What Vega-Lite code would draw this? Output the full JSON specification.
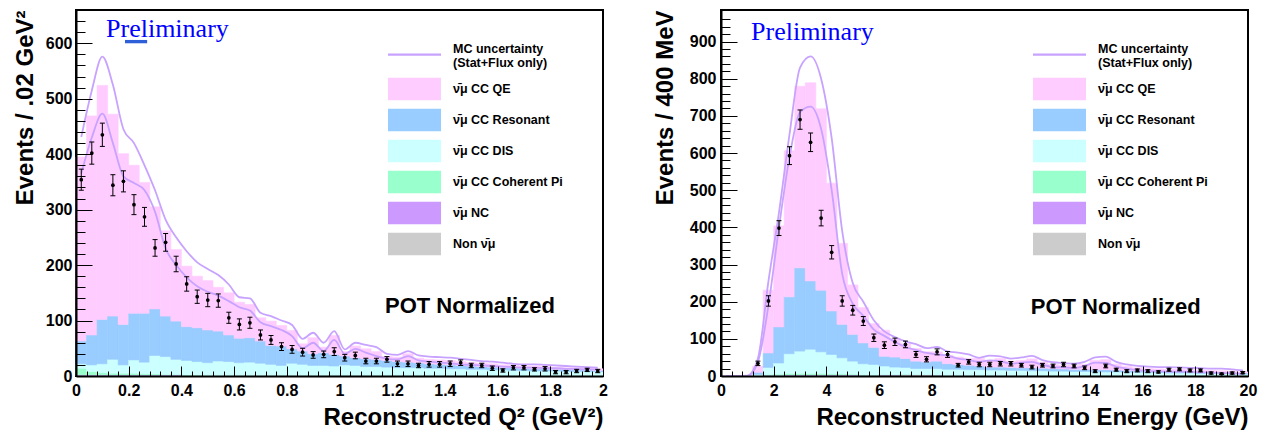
{
"$schema": "https://vega.github.io/schema/vega-lite/v6.json",
"padding": {"left": 12, "top": 8, "right": 5, "bottom": 0},
"spacing": 43,
"config": {
  "view": {"stroke": "black", "strokeWidth": 2},
  "font": "Liberation Sans",
  "axis": {"domainColor": "black", "domainWidth": 2, "tickColor": "black", "tickWidth": 1, "grid": false,
    "labelFont": "Liberation Sans", "labelFontWeight": "bold", "labelFontSize": 16, "labelColor": "black",
    "titleFont": "Liberation Sans", "titleFontWeight": "bold", "titleFontSize": 24, "titleColor": "black",
    "titleAnchor": "end", "labelFlush": false, "labelOverlap": false, "labelBound": false, "zindex": 1}
},
"resolve": {"scale": {"x": "independent", "y": "independent", "color": "independent", "stroke": "independent"}, "legend": {"color": "independent"}},
"hconcat": [
{
  "width": 527, "height": 366,
  "data": {"values": [
{"x0":0,"x1":0.04,"xc":0.02,"a_non":1,"b_nc":1,"c_coh":12,"d_dis":8,"e_res":41,"f_qe":332,"d":354,"lo":335,"hi":373,"up":431,"dn":365},
{"x0":0.04,"x1":0.08,"xc":0.06,"a_non":1,"b_nc":1,"c_coh":6,"d_dis":12,"e_res":54,"f_qe":395,"d":402,"lo":382,"hi":422,"up":515,"dn":430},
{"x0":0.08,"x1":0.12,"xc":0.1,"a_non":1,"b_nc":1,"c_coh":4,"d_dis":16,"e_res":80,"f_qe":422,"d":435,"lo":414,"hi":456,"up":576,"dn":473},
{"x0":0.12,"x1":0.16,"xc":0.14,"a_non":1,"b_nc":1,"c_coh":3,"d_dis":25,"e_res":78,"f_qe":364,"d":344,"lo":325,"hi":363,"up":525,"dn":420},
{"x0":0.16,"x1":0.2,"xc":0.18,"a_non":1,"b_nc":1,"c_coh":3,"d_dis":15,"e_res":73,"f_qe":308,"d":351,"lo":332,"hi":370,"up":445,"dn":360},
{"x0":0.2,"x1":0.24,"xc":0.22,"a_non":1,"b_nc":1,"c_coh":3,"d_dis":24,"e_res":84,"f_qe":267,"d":309,"lo":291,"hi":327,"up":420,"dn":348},
{"x0":0.24,"x1":0.28,"xc":0.26,"a_non":1,"b_nc":1,"c_coh":2,"d_dis":21,"e_res":88,"f_qe":236,"d":287,"lo":270,"hi":304,"up":380,"dn":335},
{"x0":0.28,"x1":0.32,"xc":0.3,"a_non":1,"b_nc":1,"c_coh":2,"d_dis":33,"e_res":84,"f_qe":184,"d":231,"lo":216,"hi":246,"up":335,"dn":296},
{"x0":0.32,"x1":0.36,"xc":0.34,"a_non":1,"b_nc":1,"c_coh":1,"d_dis":32,"e_res":73,"f_qe":154,"d":241,"lo":225,"hi":257,"up":282,"dn":230},
{"x0":0.36,"x1":0.4,"xc":0.38,"a_non":1,"b_nc":1,"c_coh":1,"d_dis":27,"e_res":69,"f_qe":129,"d":202,"lo":188,"hi":216,"up":250,"dn":200},
{"x0":0.4,"x1":0.44,"xc":0.42,"a_non":0,"b_nc":1,"c_coh":1,"d_dis":26,"e_res":61,"f_qe":109,"d":166,"lo":153,"hi":179,"up":225,"dn":178},
{"x0":0.44,"x1":0.48,"xc":0.46,"a_non":0,"b_nc":1,"c_coh":1,"d_dis":24,"e_res":61,"f_qe":93,"d":143,"lo":131,"hi":155,"up":205,"dn":162},
{"x0":0.48,"x1":0.52,"xc":0.5,"a_non":0,"b_nc":1,"c_coh":0,"d_dis":23,"e_res":59,"f_qe":89,"d":137,"lo":125,"hi":149,"up":193,"dn":152},
{"x0":0.52,"x1":0.56,"xc":0.54,"a_non":0,"b_nc":1,"c_coh":0,"d_dis":26,"e_res":54,"f_qe":79,"d":136,"lo":124,"hi":148,"up":182,"dn":145},
{"x0":0.56,"x1":0.6,"xc":0.58,"a_non":0,"b_nc":1,"c_coh":0,"d_dis":25,"e_res":48,"f_qe":76,"d":105,"lo":95,"hi":115,"up":165,"dn":135},
{"x0":0.6,"x1":0.64,"xc":0.62,"a_non":0,"b_nc":1,"c_coh":0,"d_dis":23,"e_res":44,"f_qe":65,"d":93,"lo":83,"hi":103,"up":142,"dn":124},
{"x0":0.64,"x1":0.68,"xc":0.66,"a_non":0,"b_nc":1,"c_coh":0,"d_dis":24,"e_res":44,"f_qe":60,"d":96,"lo":86,"hi":106,"up":140,"dn":118},
{"x0":0.68,"x1":0.72,"xc":0.7,"a_non":0,"b_nc":1,"c_coh":0,"d_dis":22,"e_res":40,"f_qe":42,"d":74,"lo":65,"hi":83,"up":114,"dn":97},
{"x0":0.72,"x1":0.76,"xc":0.74,"a_non":0,"b_nc":1,"c_coh":0,"d_dis":20,"e_res":34,"f_qe":44,"d":65,"lo":57,"hi":73,"up":108,"dn":90},
{"x0":0.76,"x1":0.8,"xc":0.78,"a_non":0,"b_nc":1,"c_coh":0,"d_dis":18,"e_res":35,"f_qe":37,"d":53,"lo":46,"hi":60,"up":100,"dn":83},
{"x0":0.8,"x1":0.84,"xc":0.82,"a_non":0,"b_nc":1,"c_coh":0,"d_dis":22,"e_res":26,"f_qe":33,"d":48,"lo":41,"hi":55,"up":92,"dn":72},
{"x0":0.84,"x1":0.88,"xc":0.86,"a_non":0,"b_nc":1,"c_coh":0,"d_dis":20,"e_res":24,"f_qe":13,"d":43,"lo":36,"hi":50,"up":67,"dn":50},
{"x0":0.88,"x1":0.92,"xc":0.9,"a_non":0,"b_nc":1,"c_coh":0,"d_dis":18,"e_res":21,"f_qe":29,"d":38,"lo":32,"hi":44,"up":78,"dn":60},
{"x0":0.92,"x1":0.96,"xc":0.94,"a_non":0,"b_nc":1,"c_coh":0,"d_dis":18,"e_res":23,"f_qe":10,"d":39,"lo":33,"hi":45,"up":60,"dn":45},
{"x0":0.96,"x1":1,"xc":0.98,"a_non":0,"b_nc":1,"c_coh":0,"d_dis":17,"e_res":21,"f_qe":34,"d":44,"lo":37,"hi":51,"up":81,"dn":65},
{"x0":1,"x1":1.04,"xc":1.02,"a_non":0,"b_nc":1,"c_coh":0,"d_dis":19,"e_res":16,"f_qe":8,"d":33,"lo":27,"hi":39,"up":48,"dn":40},
{"x0":1.04,"x1":1.08,"xc":1.06,"a_non":0,"b_nc":1,"c_coh":0,"d_dis":18,"e_res":14,"f_qe":21,"d":37,"lo":31,"hi":43,"up":60,"dn":49},
{"x0":1.08,"x1":1.12,"xc":1.1,"a_non":0,"b_nc":1,"c_coh":0,"d_dis":16,"e_res":14,"f_qe":18,"d":27,"lo":22,"hi":32,"up":56,"dn":42},
{"x0":1.12,"x1":1.16,"xc":1.14,"a_non":0,"b_nc":1,"c_coh":0,"d_dis":16,"e_res":13,"f_qe":14,"d":27,"lo":22,"hi":32,"up":52,"dn":36},
{"x0":1.16,"x1":1.2,"xc":1.18,"a_non":0,"b_nc":1,"c_coh":0,"d_dis":15,"e_res":12,"f_qe":7,"d":30,"lo":25,"hi":35,"up":40,"dn":31},
{"x0":1.2,"x1":1.24,"xc":1.22,"a_non":0,"b_nc":1,"c_coh":0,"d_dis":14,"e_res":11,"f_qe":8,"d":22,"lo":17,"hi":27,"up":38,"dn":30},
{"x0":1.24,"x1":1.28,"xc":1.26,"a_non":0,"b_nc":1,"c_coh":0,"d_dis":14,"e_res":10,"f_qe":15,"d":22,"lo":17,"hi":27,"up":45,"dn":36},
{"x0":1.28,"x1":1.32,"xc":1.3,"a_non":0,"b_nc":1,"c_coh":0,"d_dis":14,"e_res":9,"f_qe":8,"d":19,"lo":15,"hi":23,"up":37,"dn":28},
{"x0":1.32,"x1":1.36,"xc":1.34,"a_non":0,"b_nc":1,"c_coh":0,"d_dis":13,"e_res":8,"f_qe":8,"d":21,"lo":16,"hi":26,"up":35,"dn":26},
{"x0":1.36,"x1":1.4,"xc":1.38,"a_non":0,"b_nc":1,"c_coh":0,"d_dis":13,"e_res":7,"f_qe":8,"d":21,"lo":16,"hi":26,"up":34,"dn":24},
{"x0":1.4,"x1":1.44,"xc":1.42,"a_non":0,"b_nc":1,"c_coh":0,"d_dis":12,"e_res":7,"f_qe":8,"d":22,"lo":17,"hi":27,"up":33,"dn":23},
{"x0":1.44,"x1":1.48,"xc":1.46,"a_non":0,"b_nc":1,"c_coh":0,"d_dis":12,"e_res":6,"f_qe":7,"d":24,"lo":19,"hi":29,"up":31,"dn":21},
{"x0":1.48,"x1":1.52,"xc":1.5,"a_non":0,"b_nc":1,"c_coh":0,"d_dis":11,"e_res":6,"f_qe":6,"d":19,"lo":15,"hi":23,"up":29,"dn":20},
{"x0":1.52,"x1":1.56,"xc":1.54,"a_non":0,"b_nc":1,"c_coh":0,"d_dis":11,"e_res":5,"f_qe":6,"d":19,"lo":15,"hi":23,"up":27,"dn":19},
{"x0":1.56,"x1":1.6,"xc":1.58,"a_non":0,"b_nc":1,"c_coh":0,"d_dis":10,"e_res":5,"f_qe":6,"d":14,"lo":10,"hi":18,"up":26,"dn":18},
{"x0":1.6,"x1":1.64,"xc":1.62,"a_non":0,"b_nc":1,"c_coh":0,"d_dis":10,"e_res":4,"f_qe":5,"d":10,"lo":7,"hi":13,"up":24,"dn":17},
{"x0":1.64,"x1":1.68,"xc":1.66,"a_non":0,"b_nc":1,"c_coh":0,"d_dis":9,"e_res":5,"f_qe":4,"d":15,"lo":11,"hi":19,"up":22,"dn":16},
{"x0":1.68,"x1":1.72,"xc":1.7,"a_non":0,"b_nc":1,"c_coh":0,"d_dis":9,"e_res":4,"f_qe":4,"d":15,"lo":11,"hi":19,"up":21,"dn":15},
{"x0":1.72,"x1":1.76,"xc":1.74,"a_non":0,"b_nc":1,"c_coh":0,"d_dis":8,"e_res":4,"f_qe":5,"d":12,"lo":9,"hi":15,"up":21,"dn":15},
{"x0":1.76,"x1":1.8,"xc":1.78,"a_non":0,"b_nc":1,"c_coh":0,"d_dis":8,"e_res":4,"f_qe":4,"d":13,"lo":9,"hi":17,"up":20,"dn":14},
{"x0":1.8,"x1":1.84,"xc":1.82,"a_non":0,"b_nc":1,"c_coh":0,"d_dis":8,"e_res":3,"f_qe":4,"d":7,"lo":4,"hi":10,"up":19,"dn":14},
{"x0":1.84,"x1":1.88,"xc":1.86,"a_non":0,"b_nc":1,"c_coh":0,"d_dis":7,"e_res":4,"f_qe":3,"d":7,"lo":4,"hi":10,"up":18,"dn":13},
{"x0":1.88,"x1":1.92,"xc":1.9,"a_non":0,"b_nc":1,"c_coh":0,"d_dis":7,"e_res":3,"f_qe":4,"d":9,"lo":6,"hi":12,"up":17,"dn":13},
{"x0":1.92,"x1":1.96,"xc":1.94,"a_non":0,"b_nc":1,"c_coh":0,"d_dis":7,"e_res":3,"f_qe":3,"d":11,"lo":8,"hi":14,"up":16,"dn":12},
{"x0":1.96,"x1":2,"xc":1.98,"a_non":0,"b_nc":1,"c_coh":0,"d_dis":7,"e_res":2,"f_qe":3,"d":9,"lo":6,"hi":12,"up":15,"dn":12}
  ]},
  "layer": [
    {"transform": [{"fold": ["a_non","b_nc","c_coh","d_dis","e_res","f_qe"], "as": ["cat","n"]},
                   {"stack": "n", "groupby": ["x0"], "sort": [{"field": "cat", "order": "ascending"}], "as": ["s0","s1"]}],
     "mark": {"type": "rect", "opacity": 1, "strokeWidth": 0.6},
     "encoding": {
       "x": {"field": "x0", "type": "quantitative", "scale": {"domain": [0,2], "nice": false, "zero": false},
         "axis": {"values": [0,0.04,0.08,0.12,0.16,0.2,0.24,0.28,0.32,0.36,0.4,0.44,0.48,0.52,0.56,0.6,0.64,0.68,0.72,0.76,0.8,0.84,0.88,0.92,0.96,1,1.04,1.08,1.12,1.16,1.2,1.24,1.28,1.32,1.36,1.4,1.44,1.48,1.52,1.56,1.6,1.64,1.68,1.72,1.76,1.8,1.84,1.88,1.92,1.96,2],
           "tickCount": 500,
           "tickSize": {"condition": {"test": "abs(datum.value*5-round(datum.value*5))<0.001", "value": -10}, "value": -5},
           "labelExpr": "abs(datum.value*5-round(datum.value*5))<0.001 ? format(datum.value,'~g') : ''",
           "labelOverlap": false, "zindex": 1,
           "labelPadding": 16, "title": "Reconstructed Q\u00b2 (GeV\u00b2)", "titlePadding": 2}},
       "x2": {"field": "x1"},
       "y": {"field": "s0", "type": "quantitative", "scale": {"domain": [0,660], "nice": false},
         "axis": {"values": [0,20,40,60,80,100,120,140,160,180,200,220,240,260,280,300,320,340,360,380,400,420,440,460,480,500,520,540,560,580,600,620,640],
           "tickCount": 500,
           "tickSize": {"condition": {"test": "datum.value % 100 === 0", "value": -16}, "value": -9},
           "labelExpr": "datum.value % 100 === 0 ? datum.label : ''",
           "labelOverlap": false, "zindex": 1,
           "labelPadding": 20, "title": "Events / .02 GeV\u00b2", "titlePadding": 8}},
       "y2": {"field": "s1"},
       "stroke": {"field": "cat", "type": "nominal", "legend": null,
         "scale": {"domain": ["MC","f_qe","e_res","d_dis","c_coh","b_nc","a_non"], "range": ["#c8a2ff","#ffccff","#99ccff","#ccffff","#99ffcc","#cc99ff","#cccccc"]}},
       "color": {"field": "cat", "type": "nominal",
         "scale": {"domain": ["MC","f_qe","e_res","d_dis","c_coh","b_nc","a_non"], "range": ["#c8a2ff","#ffccff","#99ccff","#ccffff","#99ffcc","#cc99ff","#cccccc"]},
         "legend": {"orient": "none", "legendX": 312, "legendY": 27.5, "title": null, "symbolType": "M-1,-0.43H1V0.43H-1Z", "symbolSize": 2809, "symbolStrokeWidth": 0, "symbolOpacity": 1, "clipHeight": 23, "rowPadding": 8, "labelOffset": 12, "labelFont": "Liberation Sans", "labelFontWeight": "bold", "labelFontSize": 12.5, "labelColor": "black", "labelLimit": 300,
           "labelExpr": "{'MC':['MC uncertainty','(Stat+Flux only)'],'f_qe':'\u03bd\u0304\u03bc CC QE','e_res':'\u03bd\u0304\u03bc CC Resonant','d_dis':'\u03bd\u0304\u03bc CC DIS','c_coh':'\u03bd\u0304\u03bc CC Coherent Pi','b_nc':'\u03bd\u0304\u03bc NC','a_non':'Non \u03bd\u0304\u03bc'}[datum.value]",
           "encode": {"symbols": {"update": {"shape": {"signal": "datum.value === 'MC' ? 'M-1,0.17H1V0.25H-1Z' : 'M-1,-0.43H1V0.43H-1Z'"}}}, "labels": {"update": {"lineHeight": {"value": 14}}}}}}
     }},
    {"transform": [{"fold": ["up","dn"], "as": ["band","v"]}],
     "mark": {"type": "line", "color": "#c8a2ff", "strokeWidth": 1.8, "interpolate": "monotone"},
     "encoding": {
       "x": {"field": "xc", "type": "quantitative", "scale": {"domain": [0,2], "nice": false}},
       "y": {"field": "v", "type": "quantitative", "scale": {"domain": [0,660], "nice": false}},
       "detail": {"field": "band"}}},
    {"mark": {"type": "rule", "color": "black", "strokeWidth": 1},
     "encoding": {
       "x": {"field": "xc", "type": "quantitative", "scale": {"domain": [0,2], "nice": false}},
       "y": {"field": "lo", "type": "quantitative", "scale": {"domain": [0,660], "nice": false}},
       "y2": {"field": "hi"}}},
    {"transform": [{"fold": ["lo","hi"], "as": ["e","ev"]}],
     "mark": {"type": "tick", "orient": "horizontal", "size": 5, "thickness": 1, "color": "black", "opacity": 1},
     "encoding": {
       "x": {"field": "xc", "type": "quantitative", "scale": {"domain": [0,2], "nice": false}},
       "y": {"field": "ev", "type": "quantitative", "scale": {"domain": [0,660], "nice": false}}}},
    {"mark": {"type": "circle", "size": 14, "color": "black", "opacity": 1},
     "encoding": {
       "x": {"field": "xc", "type": "quantitative", "scale": {"domain": [0,2], "nice": false}},
       "y": {"field": "d", "type": "quantitative", "scale": {"domain": [0,660], "nice": false}}}},
    {"data": {"values": [{"x": 0.114, "y": 612, "t": "Preliminary"}]},
     "mark": {"type": "text", "font": "Liberation Serif", "fontSize": 26, "color": "#0000ff", "align": "left", "baseline": "alphabetic"},
     "encoding": {
       "x": {"field": "x", "type": "quantitative", "scale": {"domain": [0,2], "nice": false}},
       "y": {"field": "y", "type": "quantitative", "scale": {"domain": [0,660], "nice": false}},
       "text": {"field": "t"}}},
    {"data": {"values": [{"x": 0.186, "x2": 0.27, "y": 600, "y2": 606}]},
     "mark": {"type": "rect", "color": "#2f5fd8"},
     "encoding": {
       "x": {"field": "x", "type": "quantitative", "scale": {"domain": [0,2], "nice": false}},
       "x2": {"field": "x2"},
       "y": {"field": "y", "type": "quantitative", "scale": {"domain": [0,660], "nice": false}},
       "y2": {"field": "y2"}}},
    {"data": {"values": [{"x": 1.495, "y": 114, "t": "POT Normalized"}]},
     "mark": {"type": "text", "font": "Liberation Sans", "fontSize": 22, "fontWeight": "bold", "color": "black", "align": "center", "baseline": "alphabetic"},
     "encoding": {
       "x": {"field": "x", "type": "quantitative", "scale": {"domain": [0,2], "nice": false}},
       "y": {"field": "y", "type": "quantitative", "scale": {"domain": [0,660], "nice": false}},
       "text": {"field": "t"}}}
  ]
},
{
  "width": 527, "height": 366,
  "data": {"values": [
{"x0":0,"x1":0.4,"xc":0.2,"a_non":0,"b_nc":0,"c_coh":0,"d_dis":0,"e_res":0,"f_qe":0,"up":0,"dn":0},
{"x0":0.4,"x1":0.8,"xc":0.6,"a_non":0,"b_nc":0,"c_coh":0,"d_dis":0,"e_res":0,"f_qe":0,"up":0,"dn":0},
{"x0":0.8,"x1":1.2,"xc":1.0,"a_non":0,"b_nc":0,"c_coh":0,"d_dis":0,"e_res":0,"f_qe":0,"up":1,"dn":0},
{"x0":1.2,"x1":1.6,"xc":1.4,"a_non":0,"b_nc":1,"c_coh":0,"d_dis":3,"e_res":6,"f_qe":16,"d":34,"lo":28,"hi":40,"up":47,"dn":38},
{"x0":1.6,"x1":2,"xc":1.8,"a_non":1,"b_nc":1,"c_coh":2,"d_dis":19,"e_res":39,"f_qe":169,"d":202,"lo":188,"hi":216,"up":255,"dn":190},
{"x0":2,"x1":2.4,"xc":2.2,"a_non":1,"b_nc":1,"c_coh":3,"d_dis":30,"e_res":97,"f_qe":272,"d":398,"lo":378,"hi":418,"up":440,"dn":400},
{"x0":2.4,"x1":2.8,"xc":2.6,"a_non":1,"b_nc":2,"c_coh":4,"d_dis":53,"e_res":153,"f_qe":393,"d":593,"lo":569,"hi":617,"up":650,"dn":589},
{"x0":2.8,"x1":3.2,"xc":3,"a_non":1,"b_nc":2,"c_coh":4,"d_dis":60,"e_res":224,"f_qe":489,"d":690,"lo":664,"hi":716,"up":830,"dn":710},
{"x0":3.2,"x1":3.6,"xc":3.4,"a_non":1,"b_nc":2,"c_coh":4,"d_dis":65,"e_res":184,"f_qe":533,"d":629,"lo":604,"hi":654,"up":860,"dn":725},
{"x0":3.6,"x1":4,"xc":3.8,"a_non":1,"b_nc":2,"c_coh":4,"d_dis":58,"e_res":166,"f_qe":488,"d":425,"lo":404,"hi":446,"up":800,"dn":665},
{"x0":4,"x1":4.4,"xc":4.2,"a_non":1,"b_nc":2,"c_coh":3,"d_dis":52,"e_res":117,"f_qe":344,"d":333,"lo":315,"hi":351,"up":640,"dn":500},
{"x0":4.4,"x1":4.8,"xc":4.6,"a_non":1,"b_nc":2,"c_coh":3,"d_dis":43,"e_res":90,"f_qe":218,"d":202,"lo":188,"hi":216,"up":390,"dn":275},
{"x0":4.8,"x1":5.2,"xc":5,"a_non":1,"b_nc":2,"c_coh":2,"d_dis":35,"e_res":72,"f_qe":133,"d":177,"lo":164,"hi":190,"up":250,"dn":195},
{"x0":5.2,"x1":5.6,"xc":5.4,"a_non":1,"b_nc":1,"c_coh":2,"d_dis":29,"e_res":56,"f_qe":95,"d":148,"lo":136,"hi":160,"up":200,"dn":162},
{"x0":5.6,"x1":6,"xc":5.8,"a_non":1,"b_nc":1,"c_coh":1,"d_dis":28,"e_res":46,"f_qe":64,"d":103,"lo":93,"hi":113,"up":150,"dn":125},
{"x0":6,"x1":6.4,"xc":6.2,"a_non":2,"b_nc":1,"c_coh":1,"d_dis":23,"e_res":26,"f_qe":70,"d":83,"lo":74,"hi":92,"up":120,"dn":108},
{"x0":6.4,"x1":6.8,"xc":6.6,"a_non":2,"b_nc":1,"c_coh":1,"d_dis":20,"e_res":27,"f_qe":50,"d":92,"lo":82,"hi":102,"up":105,"dn":92},
{"x0":6.8,"x1":7.2,"xc":7,"a_non":3,"b_nc":1,"c_coh":1,"d_dis":18,"e_res":24,"f_qe":40,"d":85,"lo":76,"hi":94,"up":93,"dn":78},
{"x0":7.2,"x1":7.6,"xc":7.4,"a_non":3,"b_nc":1,"c_coh":0,"d_dis":16,"e_res":20,"f_qe":34,"d":58,"lo":50,"hi":66,"up":86,"dn":70},
{"x0":7.6,"x1":8,"xc":7.8,"a_non":3,"b_nc":1,"c_coh":0,"d_dis":16,"e_res":18,"f_qe":27,"d":45,"lo":38,"hi":52,"up":75,"dn":62},
{"x0":8,"x1":8.4,"xc":8.2,"a_non":2,"b_nc":1,"c_coh":0,"d_dis":17,"e_res":20,"f_qe":25,"d":65,"lo":57,"hi":73,"up":78,"dn":58},
{"x0":8.4,"x1":8.8,"xc":8.6,"a_non":1,"b_nc":1,"c_coh":0,"d_dis":16,"e_res":15,"f_qe":23,"d":58,"lo":50,"hi":66,"up":66,"dn":55},
{"x0":8.8,"x1":9.2,"xc":9,"a_non":1,"b_nc":1,"c_coh":0,"d_dis":16,"e_res":13,"f_qe":20,"d":29,"lo":24,"hi":34,"up":63,"dn":47},
{"x0":9.2,"x1":9.6,"xc":9.4,"a_non":1,"b_nc":1,"c_coh":0,"d_dis":15,"e_res":12,"f_qe":18,"d":38,"lo":32,"hi":44,"up":58,"dn":43},
{"x0":9.6,"x1":10,"xc":9.8,"a_non":1,"b_nc":1,"c_coh":0,"d_dis":15,"e_res":10,"f_qe":20,"d":31,"lo":25,"hi":37,"up":49,"dn":38},
{"x0":10,"x1":10.4,"xc":10.2,"a_non":1,"b_nc":1,"c_coh":0,"d_dis":14,"e_res":8,"f_qe":18,"d":31,"lo":25,"hi":37,"up":55,"dn":42},
{"x0":10.4,"x1":10.8,"xc":10.6,"a_non":1,"b_nc":1,"c_coh":0,"d_dis":14,"e_res":8,"f_qe":23,"d":33,"lo":27,"hi":39,"up":53,"dn":40},
{"x0":10.8,"x1":11.2,"xc":11,"a_non":1,"b_nc":1,"c_coh":0,"d_dis":13,"e_res":8,"f_qe":17,"d":33,"lo":27,"hi":39,"up":47,"dn":33},
{"x0":11.2,"x1":11.6,"xc":11.4,"a_non":1,"b_nc":1,"c_coh":0,"d_dis":13,"e_res":7,"f_qe":20,"d":29,"lo":24,"hi":34,"up":50,"dn":36},
{"x0":11.6,"x1":12,"xc":11.8,"a_non":1,"b_nc":1,"c_coh":0,"d_dis":12,"e_res":8,"f_qe":24,"d":24,"lo":19,"hi":29,"up":54,"dn":38},
{"x0":12,"x1":12.4,"xc":12.2,"a_non":1,"b_nc":1,"c_coh":0,"d_dis":12,"e_res":7,"f_qe":16,"d":29,"lo":24,"hi":34,"up":43,"dn":30},
{"x0":12.4,"x1":12.8,"xc":12.6,"a_non":1,"b_nc":1,"c_coh":0,"d_dis":11,"e_res":7,"f_qe":11,"d":27,"lo":22,"hi":32,"up":37,"dn":24},
{"x0":12.8,"x1":13.2,"xc":13,"a_non":1,"b_nc":1,"c_coh":0,"d_dis":11,"e_res":6,"f_qe":10,"d":31,"lo":25,"hi":37,"up":35,"dn":23},
{"x0":13.2,"x1":13.6,"xc":13.4,"a_non":1,"b_nc":1,"c_coh":0,"d_dis":10,"e_res":6,"f_qe":10,"d":27,"lo":22,"hi":32,"up":33,"dn":22},
{"x0":13.6,"x1":14,"xc":13.8,"a_non":1,"b_nc":1,"c_coh":0,"d_dis":10,"e_res":6,"f_qe":13,"d":22,"lo":17,"hi":27,"up":38,"dn":27},
{"x0":14,"x1":14.4,"xc":14.2,"a_non":1,"b_nc":1,"c_coh":0,"d_dis":9,"e_res":6,"f_qe":25,"d":13,"lo":9,"hi":17,"up":50,"dn":36},
{"x0":14.4,"x1":14.8,"xc":14.6,"a_non":1,"b_nc":1,"c_coh":0,"d_dis":9,"e_res":6,"f_qe":27,"d":27,"lo":22,"hi":32,"up":52,"dn":35},
{"x0":14.8,"x1":15.2,"xc":15,"a_non":1,"b_nc":1,"c_coh":0,"d_dis":9,"e_res":5,"f_qe":16,"d":17,"lo":13,"hi":21,"up":38,"dn":25},
{"x0":15.2,"x1":15.6,"xc":15.4,"a_non":1,"b_nc":1,"c_coh":0,"d_dis":8,"e_res":5,"f_qe":11,"d":13,"lo":9,"hi":17,"up":31,"dn":20},
{"x0":15.6,"x1":16,"xc":15.8,"a_non":1,"b_nc":1,"c_coh":0,"d_dis":8,"e_res":4,"f_qe":8,"d":15,"lo":11,"hi":19,"up":27,"dn":16},
{"x0":16,"x1":16.4,"xc":16.2,"a_non":1,"b_nc":1,"c_coh":0,"d_dis":7,"e_res":4,"f_qe":7,"d":13,"lo":9,"hi":17,"up":25,"dn":14},
{"x0":16.4,"x1":16.8,"xc":16.6,"a_non":1,"b_nc":1,"c_coh":0,"d_dis":7,"e_res":4,"f_qe":6,"d":11,"lo":8,"hi":14,"up":24,"dn":13},
{"x0":16.8,"x1":17.2,"xc":17,"a_non":1,"b_nc":1,"c_coh":0,"d_dis":6,"e_res":4,"f_qe":6,"d":17,"lo":13,"hi":21,"up":24,"dn":12},
{"x0":17.2,"x1":17.6,"xc":17.4,"a_non":1,"b_nc":1,"c_coh":0,"d_dis":6,"e_res":4,"f_qe":6,"d":18,"lo":14,"hi":22,"up":23,"dn":12},
{"x0":17.6,"x1":18,"xc":17.8,"a_non":1,"b_nc":1,"c_coh":0,"d_dis":6,"e_res":3,"f_qe":6,"d":15,"lo":11,"hi":19,"up":22,"dn":11},
{"x0":18,"x1":18.4,"xc":18.2,"a_non":1,"b_nc":1,"c_coh":0,"d_dis":5,"e_res":4,"f_qe":5,"d":15,"lo":11,"hi":19,"up":21,"dn":10},
{"x0":18.4,"x1":18.8,"xc":18.6,"a_non":1,"b_nc":1,"c_coh":0,"d_dis":5,"e_res":3,"f_qe":5,"d":8,"lo":5,"hi":11,"up":20,"dn":9},
{"x0":18.8,"x1":19.2,"xc":19,"a_non":1,"b_nc":1,"c_coh":0,"d_dis":4,"e_res":3,"f_qe":5,"d":6,"lo":4,"hi":8,"up":20,"dn":8},
{"x0":19.2,"x1":19.6,"xc":19.4,"a_non":1,"b_nc":1,"c_coh":0,"d_dis":4,"e_res":3,"f_qe":4,"d":8,"lo":5,"hi":11,"up":18,"dn":7},
{"x0":19.6,"x1":20,"xc":19.8,"a_non":1,"b_nc":1,"c_coh":0,"d_dis":3,"e_res":3,"f_qe":3,"d":9,"lo":6,"hi":12,"up":15,"dn":6}
  ]},
  "layer": [
    {"transform": [{"fold": ["a_non","b_nc","c_coh","d_dis","e_res","f_qe"], "as": ["cat","n"]},
                   {"stack": "n", "groupby": ["x0"], "sort": [{"field": "cat", "order": "ascending"}], "as": ["s0","s1"]}],
     "mark": {"type": "rect", "opacity": 1, "strokeWidth": 0.6},
     "encoding": {
       "x": {"field": "x0", "type": "quantitative", "scale": {"domain": [0,20], "nice": false, "zero": false},
         "axis": {"values": [0,0.4,0.8,1.2,1.6,2,2.4,2.8,3.2,3.6,4,4.4,4.8,5.2,5.6,6,6.4,6.8,7.2,7.6,8,8.4,8.8,9.2,9.6,10,10.4,10.8,11.2,11.6,12,12.4,12.8,13.2,13.6,14,14.4,14.8,15.2,15.6,16,16.4,16.8,17.2,17.6,18,18.4,18.8,19.2,19.6,20],
           "tickCount": 500,
           "tickSize": {"condition": {"test": "abs(datum.value/2-round(datum.value/2))<0.001", "value": -10}, "value": -5},
           "labelExpr": "abs(datum.value/2-round(datum.value/2))<0.001 ? format(datum.value,'~g') : ''",
           "labelOverlap": false, "zindex": 1,
           "labelPadding": 16, "title": "Reconstructed Neutrino Energy (GeV)", "titlePadding": 2}},
       "x2": {"field": "x1"},
       "y": {"field": "s0", "type": "quantitative", "scale": {"domain": [0,985], "nice": false},
         "axis": {"values": [0,20,40,60,80,100,120,140,160,180,200,220,240,260,280,300,320,340,360,380,400,420,440,460,480,500,520,540,560,580,600,620,640,660,680,700,720,740,760,780,800,820,840,860,880,900,920,940,960],
           "tickCount": 500,
           "tickSize": {"condition": {"test": "datum.value % 100 === 0", "value": -16}, "value": -9},
           "labelExpr": "datum.value % 100 === 0 ? datum.label : ''",
           "labelOverlap": false, "zindex": 1,
           "labelPadding": 21, "title": "Events / 400 MeV", "titlePadding": 12}},
       "y2": {"field": "s1"},
       "stroke": {"field": "cat", "type": "nominal", "legend": null,
         "scale": {"domain": ["MC","f_qe","e_res","d_dis","c_coh","b_nc","a_non"], "range": ["#c8a2ff","#ffccff","#99ccff","#ccffff","#99ffcc","#cc99ff","#cccccc"]}},
       "color": {"field": "cat", "type": "nominal",
         "scale": {"domain": ["MC","f_qe","e_res","d_dis","c_coh","b_nc","a_non"], "range": ["#c8a2ff","#ffccff","#99ccff","#ccffff","#99ffcc","#cc99ff","#cccccc"]},
         "legend": {"orient": "none", "legendX": 312, "legendY": 27.5, "title": null, "symbolType": "M-1,-0.43H1V0.43H-1Z", "symbolSize": 2809, "symbolStrokeWidth": 0, "symbolOpacity": 1, "clipHeight": 23, "rowPadding": 8, "labelOffset": 12, "labelFont": "Liberation Sans", "labelFontWeight": "bold", "labelFontSize": 12.5, "labelColor": "black", "labelLimit": 300,
           "labelExpr": "{'MC':['MC uncertainty','(Stat+Flux only)'],'f_qe':'\u03bd\u0304\u03bc CC QE','e_res':'\u03bd\u0304\u03bc CC Resonant','d_dis':'\u03bd\u0304\u03bc CC DIS','c_coh':'\u03bd\u0304\u03bc CC Coherent Pi','b_nc':'\u03bd\u0304\u03bc NC','a_non':'Non \u03bd\u0304\u03bc'}[datum.value]",
           "encode": {"symbols": {"update": {"shape": {"signal": "datum.value === 'MC' ? 'M-1,0.17H1V0.25H-1Z' : 'M-1,-0.43H1V0.43H-1Z'"}}}, "labels": {"update": {"lineHeight": {"value": 14}}}}}}
     }},
    {"transform": [{"fold": ["up","dn"], "as": ["band","v"]}],
     "mark": {"type": "line", "color": "#c8a2ff", "strokeWidth": 1.8, "interpolate": "monotone"},
     "encoding": {
       "x": {"field": "xc", "type": "quantitative", "scale": {"domain": [0,20], "nice": false}},
       "y": {"field": "v", "type": "quantitative", "scale": {"domain": [0,985], "nice": false}},
       "detail": {"field": "band"}}},
    {"transform": [{"filter": "isValid(datum.d)"}],
     "mark": {"type": "rule", "color": "black", "strokeWidth": 1},
     "encoding": {
       "x": {"field": "xc", "type": "quantitative", "scale": {"domain": [0,20], "nice": false}},
       "y": {"field": "lo", "type": "quantitative", "scale": {"domain": [0,985], "nice": false}},
       "y2": {"field": "hi"}}},
    {"transform": [{"filter": "isValid(datum.d)"}, {"fold": ["lo","hi"], "as": ["e","ev"]}],
     "mark": {"type": "tick", "orient": "horizontal", "size": 5, "thickness": 1, "color": "black", "opacity": 1},
     "encoding": {
       "x": {"field": "xc", "type": "quantitative", "scale": {"domain": [0,20], "nice": false}},
       "y": {"field": "ev", "type": "quantitative", "scale": {"domain": [0,985], "nice": false}}}},
    {"transform": [{"filter": "isValid(datum.d)"}],
     "mark": {"type": "circle", "size": 14, "color": "black", "opacity": 1},
     "encoding": {
       "x": {"field": "xc", "type": "quantitative", "scale": {"domain": [0,20], "nice": false}},
       "y": {"field": "d", "type": "quantitative", "scale": {"domain": [0,985], "nice": false}}}},
    {"data": {"values": [{"x": 1.14, "y": 904, "t": "Preliminary"}]},
     "mark": {"type": "text", "font": "Liberation Serif", "fontSize": 26, "color": "#0000ff", "align": "left", "baseline": "alphabetic"},
     "encoding": {
       "x": {"field": "x", "type": "quantitative", "scale": {"domain": [0,20], "nice": false}},
       "y": {"field": "y", "type": "quantitative", "scale": {"domain": [0,985], "nice": false}},
       "text": {"field": "t"}}},
    {"data": {"values": [{"x": 14.98, "y": 167, "t": "POT Normalized"}]},
     "mark": {"type": "text", "font": "Liberation Sans", "fontSize": 22, "fontWeight": "bold", "color": "black", "align": "center", "baseline": "alphabetic"},
     "encoding": {
       "x": {"field": "x", "type": "quantitative", "scale": {"domain": [0,20], "nice": false}},
       "y": {"field": "y", "type": "quantitative", "scale": {"domain": [0,985], "nice": false}},
       "text": {"field": "t"}}}
  ]
}
]
}
